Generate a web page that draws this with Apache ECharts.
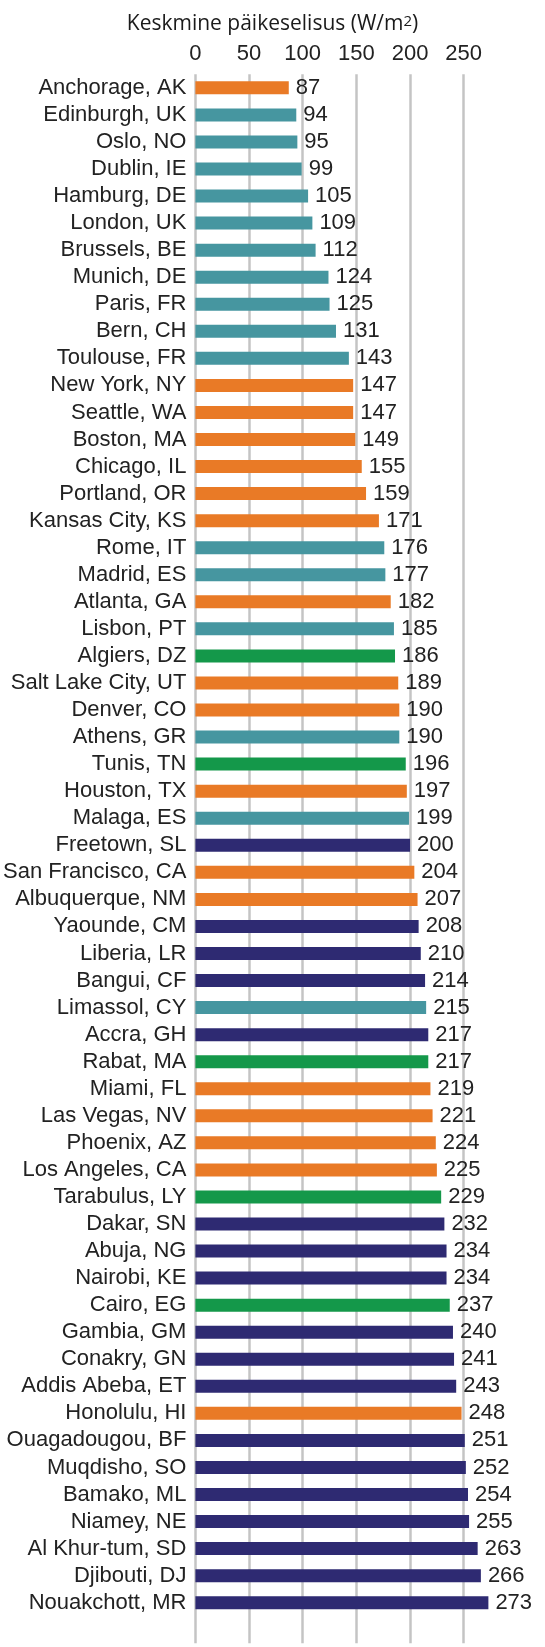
<!DOCTYPE html>
<html>
<head>
<meta charset="utf-8">
<script src="https://cdn.jsdelivr.net/npm/echarts@6/dist/echarts.min.js"></script>
<style>
  html, body { margin: 0; padding: 0; background: #fff; }
  #chart { width: 545px; height: 1647px; }
</style>
</head>
<body>
<div id="chart"></div>
<script>
  const cities = [
    'Anchorage, AK', 'Edinburgh, UK', 'Oslo, NO', 'Dublin, IE', 'Hamburg, DE',
    'London, UK', 'Brussels, BE', 'Munich, DE', 'Paris, FR', 'Bern, CH',
    'Toulouse, FR', 'New York, NY', 'Seattle, WA', 'Boston, MA', 'Chicago, IL',
    'Portland, OR', 'Kansas City, KS', 'Rome, IT', 'Madrid, ES', 'Atlanta, GA',
    'Lisbon, PT', 'Algiers, DZ', 'Salt Lake City, UT', 'Denver, CO', 'Athens, GR',
    'Tunis, TN', 'Houston, TX', 'Malaga, ES', 'Freetown, SL', 'San Francisco, CA',
    'Albuquerque, NM', 'Yaounde, CM', 'Liberia, LR', 'Bangui, CF', 'Limassol, CY',
    'Accra, GH', 'Rabat, MA', 'Miami, FL', 'Las Vegas, NV', 'Phoenix, AZ',
    'Los Angeles, CA', 'Tarabulus, LY', 'Dakar, SN', 'Abuja, NG', 'Nairobi, KE',
    'Cairo, EG', 'Gambia, GM', 'Conakry, GN', 'Addis Abeba, ET', 'Honolulu, HI',
    'Ouagadougou, BF', 'Muqdisho, SO', 'Bamako, ML', 'Niamey, NE', 'Al Khur-tum, SD',
    'Djibouti, DJ', 'Nouakchott, MR'
  ]
  const values = [
    87, 94, 95, 99, 105,
    109, 112, 124, 125, 131,
    143, 147, 147, 149, 155,
    159, 171, 176, 177, 182,
    185, 186, 189, 190, 190,
    196, 197, 199, 200, 204,
    207, 208, 210, 214, 215,
    217, 217, 219, 221, 224,
    225, 229, 232, 234, 234,
    237, 240, 241, 243, 248,
    251, 252, 254, 255, 263,
    266, 273
  ]
  // piirkond: us = USA, eu = Euroopa, na = Põhja-Aafrika, af = Aafrika
  const regions = [
    'us', 'eu', 'eu', 'eu', 'eu',
    'eu', 'eu', 'eu', 'eu', 'eu',
    'eu', 'us', 'us', 'us', 'us',
    'us', 'us', 'eu', 'eu', 'us',
    'eu', 'na', 'us', 'us', 'eu',
    'na', 'us', 'eu', 'af', 'us',
    'us', 'af', 'af', 'af', 'eu',
    'af', 'na', 'us', 'us', 'us',
    'us', 'na', 'af', 'af', 'af',
    'na', 'af', 'af', 'af', 'us',
    'af', 'af', 'af', 'af', 'af',
    'af', 'af'
  ]
  const ticks = [0, 50, 100, 150, 200, 250]

  const COLORS = {us: '#e97a26', eu: '#4696a0', na: '#14984a', af: '#2e2a72'}
  const FONT = '"Liberation Sans", Arial, sans-serif'

  let chart = echarts.init(document.getElementById('chart'))
  let option = {
    animation: false,
    title: {
      text: 'Keskmine päikeselisus (W/m{sup|2})',
      left: 'center',
      top: 9,
      textStyle: {
        fontFamily: '"Open Sans", sans-serif',
        fontSize: 21,
        fontWeight: 'normal',
        color: '#1a1a1a',
        rich: {
          sup: {fontFamily: '"Open Sans", sans-serif', fontSize: 15, verticalAlign: 'top', padding: [0, 0, 5, 0], color: '#1a1a1a'}
        }
      }
    },
    grid: {left: 193.5, top: 74.3, width: 302.4, height: 1569, containLabel: false},
    xAxis: {
      type: 'value',
      position: 'top',
      min: 0,
      max: 280,
      interval: 50,
      axisLine: {show: false},
      axisTick: {show: false},
      axisLabel: {
        showMaxLabel: false,
        margin: 9,
        fontFamily: FONT,
        fontSize: 22,
        color: '#222',
        formatter: v => ticks.indexOf(v) >= 0 ? String(v) : ''
      },
      splitLine: {show: true, showMaxLine: false, lineStyle: {color: '#c4c4c4', width: 2.5}}
    },
    yAxis: {
      type: 'category',
      inverse: true,
      data: cities,
      max: cities.length,
      axisLine: {show: false},
      axisTick: {show: false},
      axisLabel: {margin: 9, fontFamily: FONT, fontSize: 22, color: '#222', interval: 0}
    },
    series: [{
      type: 'bar',
      barWidth: 13,
      data: values.map((v, i) => ({value: v, itemStyle: {color: COLORS[regions[i]]}})),
      label: {
        show: true,
        position: 'right',
        distance: 7,
        fontFamily: FONT,
        fontSize: 22,
        color: '#222'
      }
    }]
  }
  chart.setOption(option)
</script>
</body>
</html>
